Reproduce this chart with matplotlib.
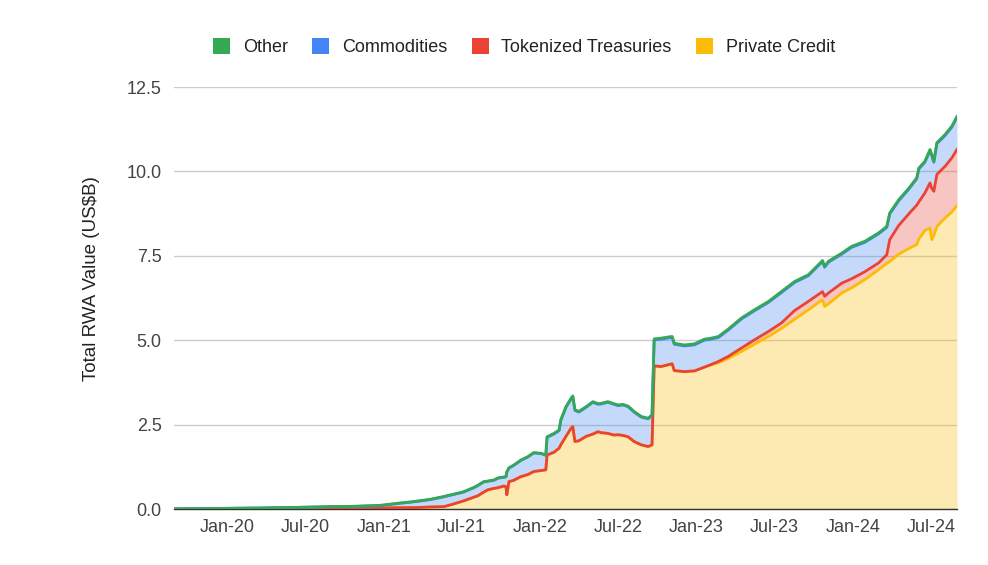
import matplotlib
matplotlib.use("Agg")
import matplotlib.pyplot as plt
import matplotlib.dates as mdates
from matplotlib.patches import Patch
import numpy as np
import pandas as pd

plt.rcParams['font.family'] = ['Liberation Sans', 'DejaVu Sans']

dates = ["2019-08-30", "2019-10-30", "2020-01-01", "2020-03-18", "2020-06-20", "2020-08-29",
         "2020-10-27", "2020-12-24", "2021-02-02", "2021-03-11", "2021-04-04", "2021-04-20",
         "2021-05-21", "2021-05-30", "2021-06-13", "2021-07-06", "2021-07-30", "2021-08-08",
         "2021-08-22", "2021-09-01", "2021-09-15", "2021-09-24", "2021-10-08", "2021-10-13",
         "2021-10-15", "2021-10-20", "2021-10-31", "2021-11-17", "2021-12-03", "2021-12-17",
         "2022-01-03", "2022-01-14", "2022-01-17", "2022-02-02", "2022-02-14", "2022-02-18",
         "2022-03-02", "2022-03-14", "2022-03-18", "2022-03-23", "2022-04-01", "2022-04-18",
         "2022-05-04", "2022-05-16", "2022-05-23", "2022-06-08", "2022-06-22", "2022-07-02",
         "2022-07-13", "2022-07-25", "2022-08-08", "2022-08-25", "2022-09-10", "2022-09-19",
         "2022-09-24", "2022-10-10", "2022-10-29", "2022-11-05", "2022-11-10", "2022-12-03",
         "2022-12-27", "2023-01-19", "2023-02-04", "2023-02-21", "2023-03-16", "2023-04-16",
         "2023-05-16", "2023-06-18", "2023-07-18", "2023-08-18", "2023-09-19", "2023-10-22",
         "2023-10-27", "2023-11-05", "2023-12-06", "2023-12-29", "2024-01-29", "2024-03-01",
         "2024-03-20", "2024-03-27", "2024-04-17", "2024-05-11", "2024-05-29", "2024-06-03",
         "2024-06-17", "2024-06-29", "2024-07-03", "2024-07-08", "2024-07-15", "2024-08-03",
         "2024-08-19", "2024-08-31"]

private_credit = [0.00, 0.00, 0.00, 0.00, 0.01, 0.01, 0.02, 0.03, 0.04, 0.04, 0.05, 0.06,
                  0.07, 0.10, 0.15, 0.24, 0.35, 0.39, 0.50, 0.57, 0.61, 0.63, 0.68, 0.66,
                  0.42, 0.81, 0.85, 0.96, 1.02, 1.11, 1.14, 1.16, 1.60, 1.68, 1.80, 1.90,
                  2.15, 2.39, 2.44, 2.00, 2.02, 2.15, 2.22, 2.29, 2.26, 2.24, 2.19, 2.20,
                  2.18, 2.14, 2.00, 1.90, 1.85, 1.90, 4.24, 4.22, 4.28, 4.30, 4.10, 4.07,
                  4.09, 4.20, 4.27, 4.33, 4.46, 4.67, 4.88, 5.11, 5.35, 5.62, 5.90, 6.20,
                  6.00, 6.08, 6.40, 6.55, 6.80, 7.09, 7.28, 7.33, 7.55, 7.72, 7.83, 8.00,
                  8.25, 8.32, 7.98, 8.10, 8.37, 8.62, 8.80, 8.99]

treasuries = [0.00] * 62 + [0.01, 0.04, 0.06, 0.10, 0.13, 0.15, 0.16, 0.26, 0.25, 0.24,
                            0.30, 0.32, 0.29, 0.27, 0.23, 0.20, 0.25, 0.65, 0.85, 1.03, 1.17, 1.10,
                            1.11, 1.34, 1.52, 1.31, 1.54, 1.53, 1.60, 1.66]

commodities = [0.00, 0.01, 0.02, 0.03, 0.04, 0.06, 0.06, 0.07, 0.12, 0.17, 0.20, 0.22,
               0.29, 0.29, 0.28, 0.26, 0.28, 0.30, 0.30, 0.25, 0.24, 0.28, 0.26, 0.29,
               0.67, 0.40, 0.44, 0.48, 0.52, 0.55, 0.50, 0.43, 0.52, 0.54, 0.52, 0.72,
               0.86, 0.87, 0.89, 0.92, 0.85, 0.86, 0.94, 0.81, 0.85, 0.92, 0.91, 0.86,
               0.90, 0.89, 0.87, 0.82, 0.82, 0.87, 0.77, 0.81, 0.79, 0.78, 0.78, 0.76,
               0.77, 0.80, 0.75, 0.71, 0.78, 0.86, 0.86, 0.86, 0.90, 0.83, 0.76, 0.89,
               0.86, 0.91, 0.86, 0.93, 0.87, 0.86, 0.81, 0.76, 0.73, 0.73, 0.78, 0.97,
               0.91, 0.96, 0.97, 0.86, 0.91, 0.91, 0.91, 0.95]

other = [0.00] * 7 + [0.01] * 25 + [0.02] * 22 + [0.03] * 38

series_names = ["Other", "Commodities", "Tokenized Treasuries", "Private Credit"]
series_colors = {"Other": "#34A853", "Commodities": "#4285F4",
                 "Tokenized Treasuries": "#EA4335", "Private Credit": "#FBBC04"}

x = pd.to_datetime(dates)
pc = np.array(private_credit)
tt = np.array(treasuries)
cm = np.array(commodities)
ot = np.array(other)
l1 = pc
l2 = l1 + tt
l3 = l2 + cm
l4 = l3 + ot

fig = plt.figure(figsize=(9.88, 5.65), dpi=100)
ax = fig.add_axes([174 / 988, 1 - 509 / 565, (957 - 174) / 988, (509 - 87) / 565])

alpha = 0.3
ax.fill_between(x, 0, l1, color=series_colors["Private Credit"], alpha=alpha, lw=0)
ax.fill_between(x, l1, l2, color=series_colors["Tokenized Treasuries"], alpha=alpha, lw=0)
ax.fill_between(x, l2, l3, color=series_colors["Commodities"], alpha=alpha, lw=0)
ax.fill_between(x, l3, l4, color=series_colors["Other"], alpha=alpha, lw=0)

lw = 2.0
ax.plot(x, l1, color=series_colors["Private Credit"], lw=lw, zorder=3)
ax.plot(x, l2, color=series_colors["Tokenized Treasuries"], lw=lw, zorder=4)
ax.plot(x, l3, color=series_colors["Commodities"], lw=lw, zorder=5)
ax.plot(x, l4, color=series_colors["Other"], lw=lw, zorder=6)

ax.set_xlim(x[0], x[-1])
ax.set_ylim(0, 12.5)
ax.set_yticks([0, 2.5, 5.0, 7.5, 10.0, 12.5])
ax.set_yticklabels(["0.0", "2.5", "5.0", "7.5", "10.0", "12.5"])
ax.yaxis.grid(True, color="#cccccc", lw=1)
ax.set_axisbelow(True)

xt = pd.to_datetime(["2020-01-01", "2020-07-01", "2021-01-01", "2021-07-01", "2022-01-01",
                     "2022-07-01", "2023-01-01", "2023-07-01", "2024-01-01", "2024-07-01"])
ax.set_xticks(xt)
ax.xaxis.set_major_formatter(mdates.DateFormatter("%b-%y"))

for s in ["top", "right", "left"]:
    ax.spines[s].set_visible(False)
ax.spines["bottom"].set_color("#333333")
ax.spines["bottom"].set_linewidth(1)
ax.tick_params(axis="both", length=0, labelsize=13, labelcolor="#444444")
ax.tick_params(axis="y", pad=9)
ax.tick_params(axis="x", pad=7)

ax.set_ylabel("Total RWA Value (US$B)", fontsize=13.5, color="#222222")
ax.yaxis.set_label_coords(-0.0945, 0.547)

handles = [Patch(facecolor=series_colors[n], edgecolor="none", label=n) for n in series_names]
fig.legend(handles=handles, loc="center", bbox_to_anchor=(524 / 988, 1 - 47 / 565), ncol=4,
           frameon=False, fontsize=13, handlelength=0.95, handleheight=0.95,
           handletextpad=0.7, columnspacing=1.35, labelcolor="#222222")

fig.savefig("out.png", dpi=100)
